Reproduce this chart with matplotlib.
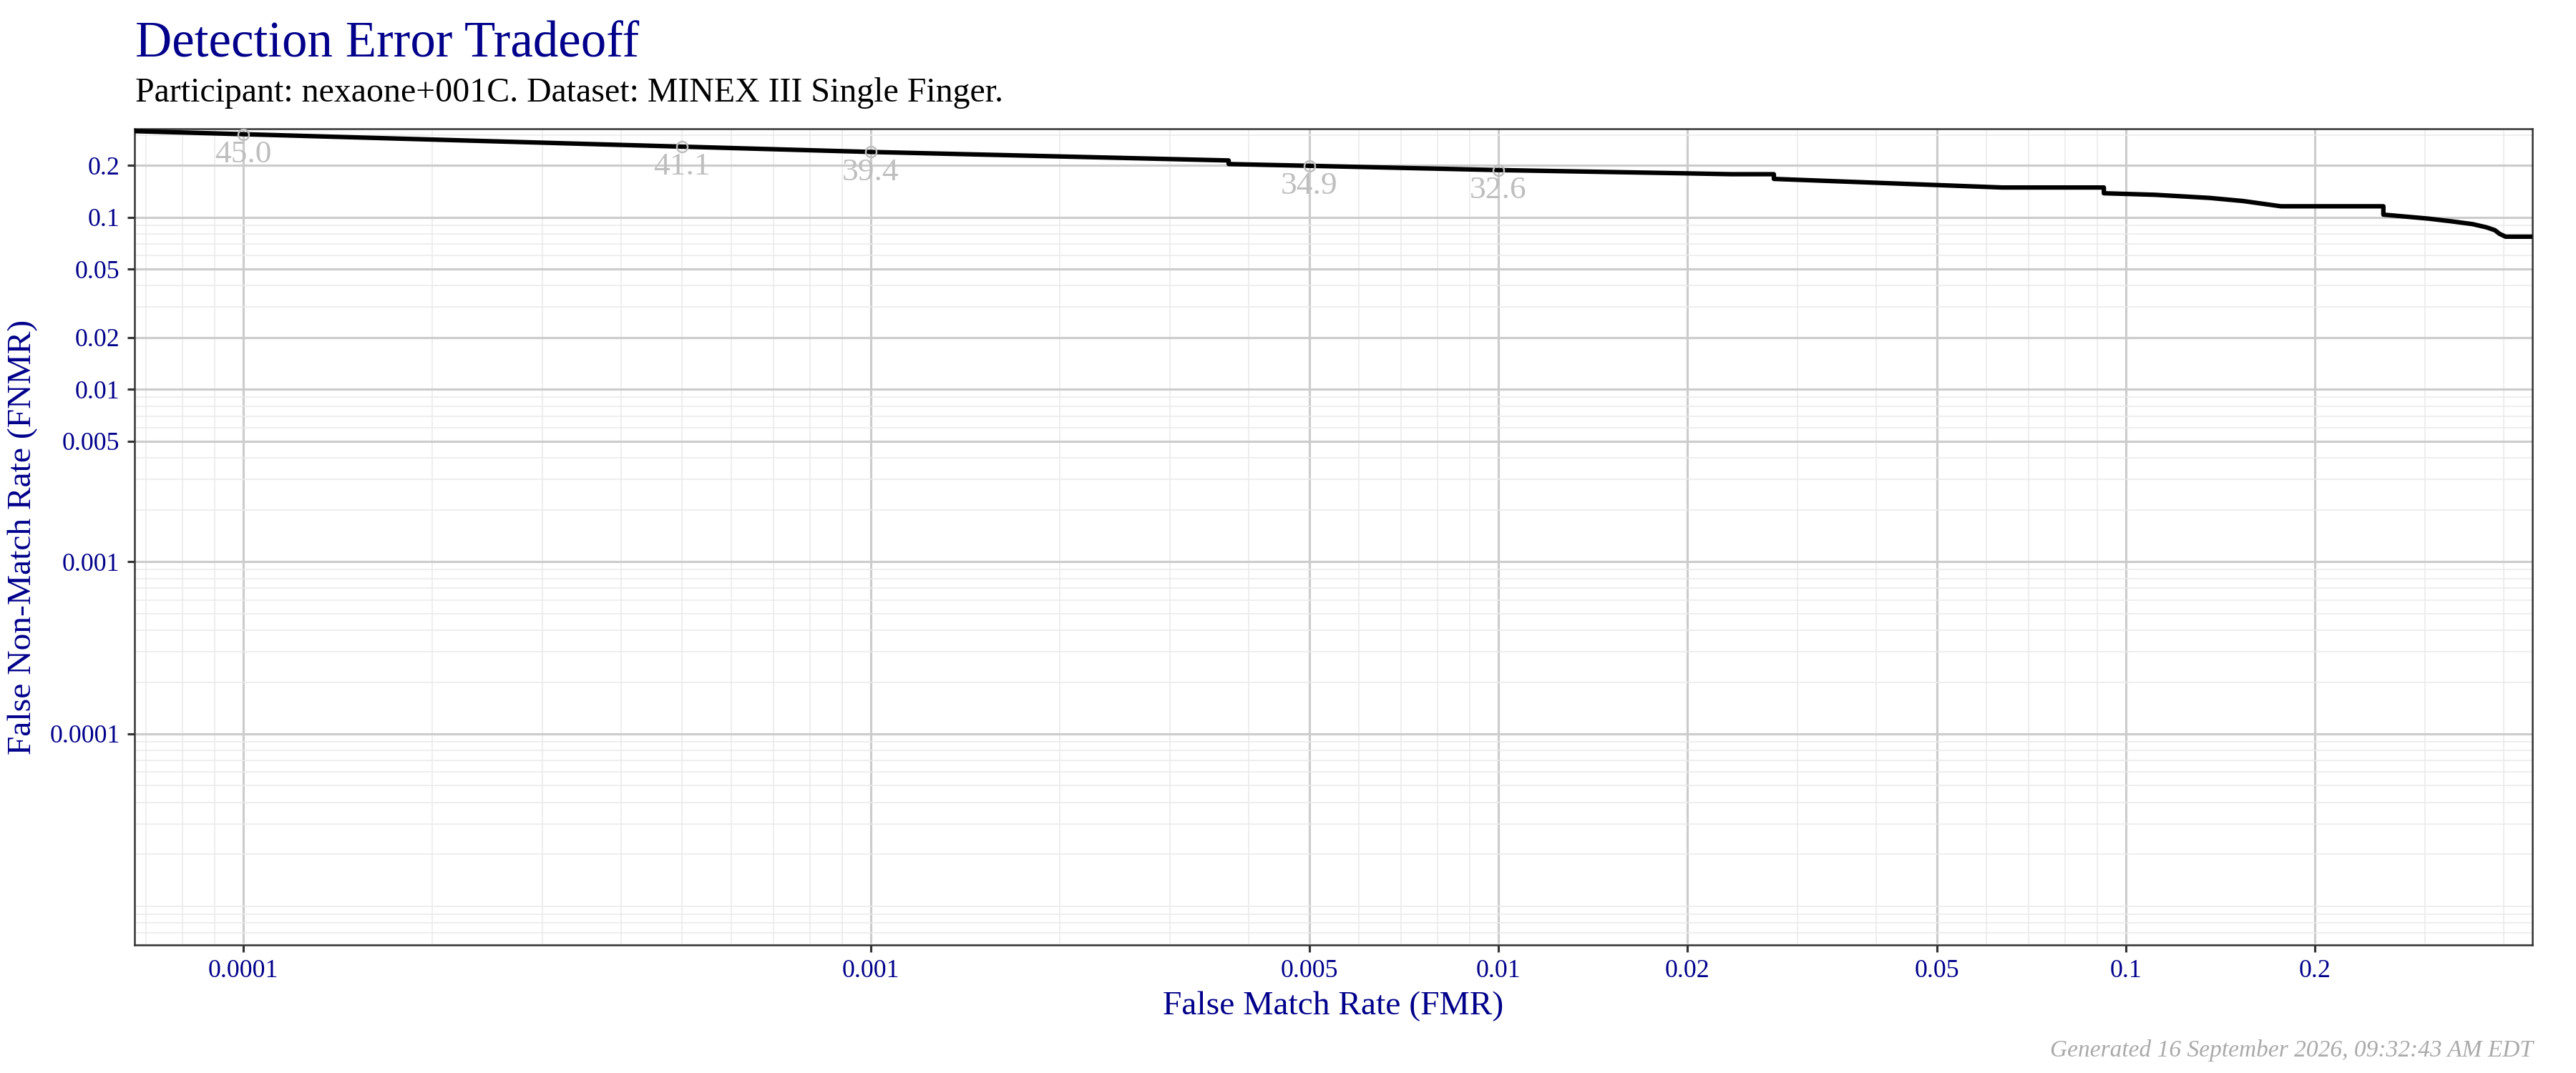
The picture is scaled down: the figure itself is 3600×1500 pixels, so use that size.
import matplotlib
matplotlib.use("Agg")
import matplotlib.pyplot as plt
from matplotlib.ticker import FixedLocator, FixedFormatter, LogLocator, NullFormatter

# ---------------- data ----------------
fmr = [5e-5, 1e-4, 5e-4, 1e-3, 0.00372, 0.00372, 0.005, 0.01, 0.02, 0.0235,
       0.0275, 0.0275, 0.0635, 0.0923, 0.0923, 0.1114, 0.1363, 0.1536, 0.1768,
       0.2574, 0.2574, 0.304, 0.33, 0.357, 0.3756, 0.3875, 0.394, 0.403, 0.5]
fnmr = [0.3253, 0.303, 0.2566, 0.239, 0.2133, 0.2033, 0.1986, 0.1876, 0.1795, 0.1775,
        0.1775, 0.1667, 0.1486, 0.1486, 0.1376, 0.1348, 0.1292, 0.1241, 0.1156,
        0.1156, 0.1034, 0.098, 0.0946, 0.0911, 0.0873, 0.084, 0.0801, 0.077, 0.077]

thr_fmr = [1e-4, 5e-4, 1e-3, 5e-3, 1e-2]
thr_fnmr = [0.303, 0.2566, 0.239, 0.1986, 0.1876]
thr_labels = ["45.0", "41.1", "39.4", "34.9", "32.6"]

x_ticks = [1e-4, 1e-3, 5e-3, 1e-2, 2e-2, 5e-2, 0.1, 0.2]
x_ticklabels = ["0.0001", "0.001", "0.005", "0.01", "0.02", "0.05", "0.1", "0.2"]
y_ticks = [1e-4, 1e-3, 5e-3, 1e-2, 2e-2, 5e-2, 0.1, 0.2]
y_ticklabels = ["0.0001", "0.001", "0.005", "0.01", "0.02", "0.05", "0.1", "0.2"]

title = "Detection Error Tradeoff"
subtitle = "Participant: nexaone+001C. Dataset: MINEX III Single Finger."
caption = "Generated 16 September 2026, 09:32:43 AM EDT"
xlabel = "False Match Rate (FMR)"
ylabel = "False Non-Match Rate (FNMR)"

# ---------------- style ----------------
plt.rcParams['font.family'] = ['Liberation Serif', 'DejaVu Serif']
BLUE = "#00008B"
W, H, DPI = 3600, 1500, 300

fig = plt.figure(figsize=(W / DPI, H / DPI), dpi=DPI)
L, R, T, B = 188, 3539, 180, 1321
ax = fig.add_axes([L / W, 1 - B / H, (R - L) / W, (B - T) / H])

ax.set_xscale("log")
ax.set_yscale("log")
ax.set_xlim(10 ** -4.173, 10 ** -0.352)
ax.set_ylim(10 ** -5.225, 10 ** -0.487)

ax.xaxis.set_major_locator(FixedLocator(x_ticks))
ax.xaxis.set_major_formatter(FixedFormatter(x_ticklabels))
ax.yaxis.set_major_locator(FixedLocator(y_ticks))
ax.yaxis.set_major_formatter(FixedFormatter(y_ticklabels))
for axis in (ax.xaxis, ax.yaxis):
    axis.set_minor_locator(LogLocator(base=10, subs=range(1, 10), numticks=50))
    axis.set_minor_formatter(NullFormatter())

ax.set_axisbelow(True)
ax.grid(which="minor", color="#EBEBEB", linewidth=0.4)
ax.grid(which="major", color="#CCCCCC", linewidth=0.75)
ax.tick_params(which="major", direction="out", length=2.4, width=0.75,
               color="#333333", labelsize=8.6, labelcolor=BLUE, pad=2.5)
ax.tick_params(which="minor", length=0, width=0)
for s in ax.spines.values():
    s.set_color("#333333")
    s.set_linewidth(0.6)

# curve
ax.plot(fmr, fnmr, color="black", linewidth=1.5, solid_joinstyle="round", zorder=3)

# threshold annotations
ax.plot(thr_fmr, thr_fnmr, linestyle="none", marker="o", markersize=3.6,
        markerfacecolor="none", markeredgecolor="#BEBEBE", markeredgewidth=0.6, zorder=4)
for xv, yv, lab in zip(thr_fmr, thr_fnmr, thr_labels):
    ax.annotate(lab, (xv, yv), xytext=(0, -2.0), textcoords="offset points",
                ha="center", va="top", fontsize=10.9, color="#BEBEBE", zorder=5)

# axis labels
ax.set_xlabel(xlabel, fontsize=11.4, color=BLUE, va="baseline")
ax.xaxis.set_label_coords(0.5, (H - 1418 - (H - B)) / (B - T))
ax.set_ylabel(ylabel, fontsize=11.4, color=BLUE, va="baseline")
ax.yaxis.set_label_coords((43 - L) / (R - L), 0.5)

# titles and caption
fig.text(189 / W, 1 - 79 / H, title, fontsize=17, color=BLUE, ha="left", va="baseline")
fig.text(189 / W, 1 - 141.7 / H, subtitle, fontsize=11.5, color="black", ha="left", va="baseline")
fig.text(3540 / W, 1 - 1476.7 / H, caption, fontsize=8, color="#AAAAAA", style="italic",
         ha="right", va="baseline")

fig.savefig("out.png", dpi=DPI)
